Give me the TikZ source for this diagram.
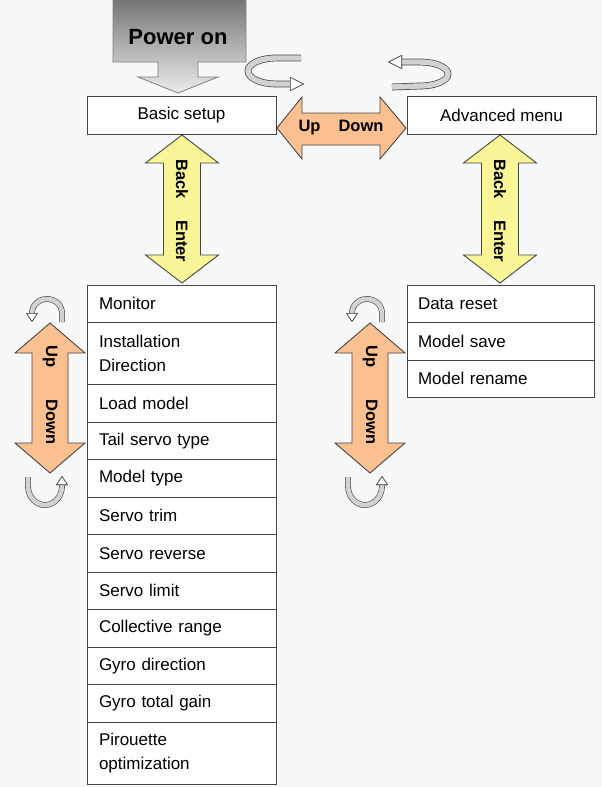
\documentclass[tikz,border=0pt]{standalone}
\usepackage{fontspec}
\setmainfont{Liberation Sans}
\usetikzlibrary{arrows.meta,positioning}
\definecolor{paper}{RGB}{247,248,250}
\definecolor{peach}{RGB}{250,192,144}
\definecolor{lemon}{RGB}{250,245,150}
\definecolor{rim}{RGB}{70,70,70}
\definecolor{steel}{RGB}{115,115,115}
\definecolor{mist}{RGB}{236,236,236}

\begin{document}
\begin{tikzpicture}[x=1pt,y=-1pt,
font=\fontsize{17}{24}\selectfont,
menuitem/.style={rectangle,draw=rim,fill=white,line width=0.9pt,outer sep=0pt,
  minimum width=189pt,text width=165pt,inner xsep=12pt,minimum height=37.5pt,align=left},
tallitem/.style={menuitem,minimum height=62pt},
sideitem/.style={menuitem,minimum width=187pt,text width=165pt,inner xsep=11pt},
topbox/.style={rectangle,draw=rim,fill=white,line width=0.9pt,minimum width=189pt,minimum height=38pt},
blockarrow/.style={draw=rim,line width=0.9pt,line join=miter},
updown/.style={blockarrow,fill=peach},
backenter/.style={blockarrow,fill=lemon},
poweron/.style={draw=rim!70,line width=0.8pt,top color=steel,bottom color=mist},
arrowtext/.style={font=\fontsize{16.5}{18}\selectfont\bfseries,inner sep=0pt},
ringarrow/.style={draw=gray!35,line width=5.4pt,
  -{Triangle[fill=white,color=rim,line width=0.6pt,length=14pt,width=14pt]},
  preaction={draw=rim,line width=6.8pt}},
smallring/.style={draw=gray!35,line width=4.6pt,
  -{Triangle[fill=white,color=rim,line width=0.6pt,length=9pt,width=12pt]},
  preaction={draw=rim,line width=5.8pt}}]

    % page
    \useasboundingbox (0,0) rectangle (602,787);
    \fill[paper] (0,0) rectangle (602,787);

    % Draw top row
    \node[topbox] (basic) at (181.5,115) {Basic setup};
    \node[topbox] (advanced) at (501.5,115) {Advanced menu};

    \draw[poweron] (113,-2) -- (246,-2) -- (246,62) -- (198,62) -- (198,77) -- (218,77)
        -- (178,93) -- (138,77) -- (158,77) -- (158,62) -- (113,62) -- cycle;
    \node[font=\fontsize{22}{24}\selectfont\bfseries] (power) at (178,37) {Power on};

    % turning arrows
    \draw[ringarrow] (301,58) -- (276,58) arc[start angle=270,end angle=90,x radius=28,y radius=13] -- (304,84);
    \draw[ringarrow] (392,87) -- (420,86) arc[start angle=90,end angle=-90,x radius=28,y radius=12] -- (388,62);

    % Up / Down between the menus
    \draw[updown] (277,128) -- (302,97) -- (302,113) -- (380,113) -- (380,97) -- (406,128)
        -- (380,159) -- (380,145) -- (302,145) -- (302,159) -- cycle;
    \node[arrowtext] (updownh) at (341,128) {Up\hspace{18pt}Down};

    % Back / Enter
    \draw[backenter] (182,135) -- (218.5,163) -- (200.5,163) -- (200.5,255) -- (218.5,255)
        -- (182,283) -- (145.5,255) -- (163.5,255) -- (163.5,163) -- (145.5,163) -- cycle;
    \node[arrowtext,rotate=-90] (backleft) at (182,211) {Back\hspace{21pt}Enter};
    \draw[backenter] (500,135) -- (536.5,163) -- (518.5,163) -- (518.5,255) -- (536.5,255)
        -- (500,283) -- (463.5,255) -- (481.5,255) -- (481.5,163) -- (463.5,163) -- cycle;
    \node[arrowtext,rotate=-90] (backright) at (500,211) {Back\hspace{21pt}Enter};

    % basic setup items
    \node[menuitem,anchor=north west] (monitor) at (87,285) {Monitor};
    \node[tallitem,below=0pt of monitor] (install) {Installation\\Direction};
    \node[menuitem,below=0pt of install] (load) {Load model};
    \node[menuitem,below=0pt of load] (tail) {Tail servo type};
    \node[menuitem,below=0pt of tail] (model) {Model type};
    \node[menuitem,below=0pt of model] (trim) {Servo trim};
    \node[menuitem,below=0pt of trim] (reverse) {Servo reverse};
    \node[menuitem,below=0pt of reverse] (limit) {Servo limit};
    \node[menuitem,below=0pt of limit] (collective) {Collective range};
    \node[menuitem,below=0pt of collective] (gyrodir) {Gyro direction};
    \node[menuitem,below=0pt of gyrodir] (gyrogain) {Gyro total gain};
    \node[tallitem,below=0pt of gyrogain] (pirouette) {Pirouette\\optimization};

    % advanced items
    \node[sideitem,anchor=north west] (reset) at (407,285) {Data reset};
    \node[sideitem,below=0pt of reset] (save) {Model save};
    \node[sideitem,below=0pt of save] (rename) {Model rename};

    % Up / Down beside the lists
    \draw[updown] (50,323) -- (85,353) -- (68,353) -- (68,443) -- (85,443) -- (50,473)
        -- (15,443) -- (32,443) -- (32,353) -- (15,353) -- cycle;
    \node[arrowtext,rotate=-90] (updownl) at (50,395) {Up\hspace{32pt}Down};
    \draw[updown] (370,323) -- (405,353) -- (388,353) -- (388,443) -- (405,443) -- (370,473)
        -- (335,443) -- (352,443) -- (352,353) -- (335,353) -- cycle;
    \node[arrowtext,rotate=-90] (updownr) at (370,395) {Up\hspace{32pt}Down};

    \draw[smallring] (62,322) -- (62,313) arc[start angle=0,end angle=-180,x radius=15,y radius=14] -- (32,322);
    \draw[smallring] (28,477) -- (28,486) arc[start angle=180,end angle=0,x radius=17,y radius=19] -- (62,476);
    \draw[smallring] (382,322) -- (382,313) arc[start angle=0,end angle=-180,x radius=15,y radius=14] -- (352,322);
    \draw[smallring] (348,477) -- (348,486) arc[start angle=180,end angle=0,x radius=17,y radius=19] -- (382,476);

\end{tikzpicture}
\end{document}
